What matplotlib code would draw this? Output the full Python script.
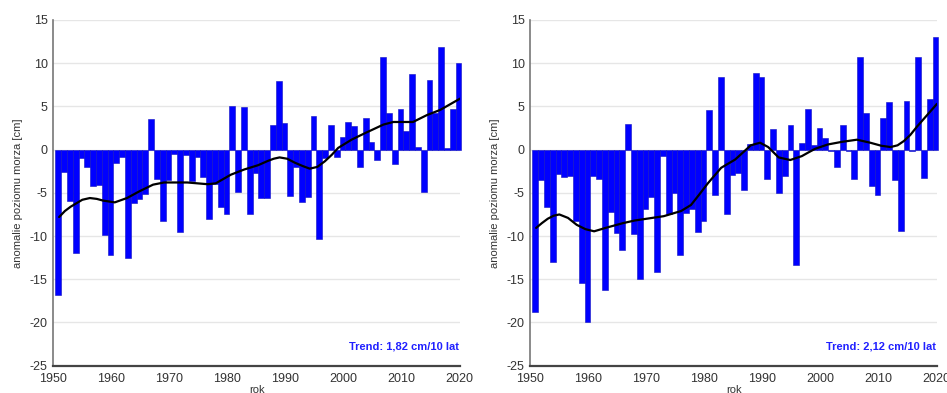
import numpy as np
import matplotlib
matplotlib.use("Agg")
import matplotlib.pyplot as plt

plt.rcParams['font.family'] = ['Liberation Sans', 'DejaVu Sans']
plt.rcParams['axes.unicode_minus'] = False

years = np.arange(1951, 2021)

# left station: yearly sea level anomalies [cm]
left_vals = [-16.8, -2.6, -6.0, -12.0, -1.0, -2.0, -4.2, -4.1, -9.9, -12.2,
             -1.6, -0.9, -12.5, -6.2, -5.7, -5.1, 3.5, -3.4, -8.3, -3.5,
             -0.5, -9.5, -0.65, -3.6, -0.8, -3.2, -8.0, -4.0, -6.6, -7.4,
             5.1, -4.9, 4.9, -7.4, -2.7, -5.6, -5.6, 2.8, 7.9, 3.1,
             -5.4, -2.0, -6.05, -5.5, 3.9, -10.3, -1.0, 2.8, -0.9, 1.5,
             3.2, 2.7, -2.0, 3.7, 0.85, -1.2, 10.7, 4.2, -1.7, 4.7,
             2.1, 8.7, 0.3, -4.9, 8.0, 4.2, 11.9, 0.2, 4.7, 10.0]

# right station
right_vals = [-18.8, -3.5, -6.6, -13.0, -2.85, -3.15, -3.05, -8.3, -15.4, -19.9,
              -3.0, -3.35, -16.2, -7.25, -9.6, -11.6, 3.0, -9.75, -15.0, -6.9,
              -5.5, -14.2, -0.7, -7.5, -5.05, -12.2, -7.3, -6.85, -9.5, -8.2,
              4.6, -5.3, 8.4, -7.5, -2.9, -2.7, -4.7, 0.7, 8.9, 8.4,
              -3.4, 2.4, -5.0, -3.0, 2.8, -13.4, 0.8, 4.7, 0.5, 2.5,
              1.3, -0.2, -2.0, 2.8, -0.2, -3.35, 10.7, 4.2, -4.2, -5.3,
              3.7, 5.5, -3.5, -9.45, 5.6, -0.2, 10.7, -3.3, 5.9, 13.0]

# smoothed curves
left_smooth_x = [1951, 1952, 1953, 1954, 1955, 1956.3, 1957.5, 1958.6, 1960.6, 1962.7,
                 1964.9, 1967.2, 1969.1, 1973.1, 1976.6, 1978, 1980.6, 1982.9, 1985.3, 1987,
                 1988, 1989, 1990.3, 1991.6, 1993, 1994.2, 1995.5, 1996.8, 1998, 1999.1,
                 2001.4, 2003.7, 2006.9, 2008.6, 2010.3, 2012, 2014.4, 2016.7, 2020.1]
left_smooth_y = [-7.8, -7.1, -6.6, -6.2, -5.8, -5.6, -5.7, -5.9, -6.1, -5.6,
                 -4.8, -4.05, -3.8, -3.8, -4.0, -3.9, -2.9, -2.3, -1.8, -1.3,
                 -1.05, -0.9, -1.05, -1.5, -1.9, -2.2, -2.0, -1.35, -0.6, 0.2,
                 1.15, 1.9, 2.9, 3.2, 3.2, 3.2, 4.0, 4.6, 5.9]

right_smooth_x = [1951, 1952, 1953, 1954, 1955, 1956.5, 1958, 1959.5, 1961, 1963,
                  1966, 1968, 1973, 1976, 1977.7, 1979, 1980.6, 1982.9, 1985.3, 1986.7,
                  1988, 1989.6, 1991, 1992.8, 1994.8, 1996.8, 1998, 1999.1, 2001.3, 2003.7,
                  2006.3, 2008.6, 2010.5, 2012.1, 2013.3, 2014.4, 2015.5, 2016.7, 2018.4, 2020.1]
right_smooth_y = [-9.06, -8.5, -8.0, -7.65, -7.5, -7.9, -8.7, -9.2, -9.45, -9.05,
                  -8.5, -8.2, -7.7, -7.1, -6.4, -5.3, -3.9, -2.1, -1.15, -0.3,
                  0.5, 0.8, 0.3, -0.9, -1.2, -0.75, -0.3, 0.1, 0.6, 0.9,
                  1.15, 0.8, 0.45, 0.3, 0.5, 1.0, 1.7, 2.7, 4.0, 5.3]

trend_texts = ["Trend: 1,82 cm/10 lat", "Trend: 2,12 cm/10 lat"]

fig = plt.figure(figsize=(9.47, 3.93), dpi=100)
ax_l = fig.add_axes([53.3 / 947, 27.3 / 393, 406.7 / 947, 345.7 / 393])
ax_r = fig.add_axes([530.3 / 947, 27.3 / 393, 406.7 / 947, 345.7 / 393])

panels = [(ax_l, left_vals, left_smooth_x, left_smooth_y, trend_texts[0]),
          (ax_r, right_vals, right_smooth_x, right_smooth_y, trend_texts[1])]

for ax, vals, sx, sy, trend in panels:
    ax.bar(years - 0.15, vals, width=1.0, color='#0000ff', edgecolor='#1010c0',
           linewidth=0.4, zorder=2, clip_on=False)
    ax.plot(sx, sy, color='black', linewidth=1.6, zorder=3,
            solid_joinstyle='round', solid_capstyle='round')

    ax.set_xlim(1950, 2020.1)
    ax.set_ylim(-25, 15)
    ax.set_xticks(range(1950, 2021, 10))
    ax.set_yticks(range(-25, 16, 5))
    ax.yaxis.grid(True, color='#e6e6e6', linewidth=1, zorder=0)
    ax.set_axisbelow(True)

    for s in ['top', 'right']:
        ax.spines[s].set_visible(False)
    ax.spines['left'].set_color('#777777')
    ax.spines['left'].set_linewidth(1.2)
    ax.spines['bottom'].set_color('#444444')
    ax.spines['bottom'].set_linewidth(1.6)

    ax.tick_params(axis='both', length=0, labelsize=9, colors='#333333')
    ax.tick_params(axis='x', pad=5)
    ax.tick_params(axis='y', pad=4)
    ax.set_ylabel("anomalie poziomu morza [cm]", fontsize=8, color='#333333', labelpad=5)
    ax.set_xlabel("rok", fontsize=8, color='#333333', labelpad=0)

    ax.text(0.998, 0.055, trend, transform=ax.transAxes, ha='right', va='center',
            color='#2020ff', fontsize=8, fontweight='bold')

fig.savefig("out.png", dpi=100)
